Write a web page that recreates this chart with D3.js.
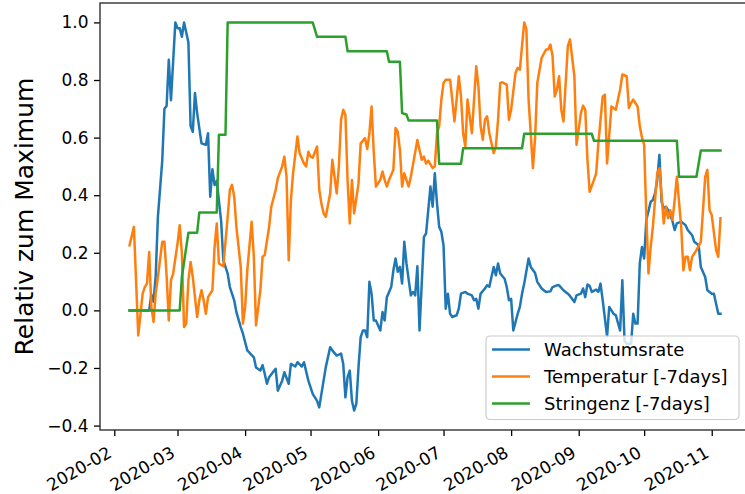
<html>

<head>
    <title>Wachstumsrate</title>
    <meta charset="utf-8">
    <style>
        body { margin: 0; background: #fff; }
        text { font-family: "DejaVu Sans", sans-serif; fill: #000; }
        .lines path { fill: none; stroke-width: 2.5px; stroke-linejoin: round; stroke-linecap: square; }
        .axis line { stroke: #000; stroke-width: 1.3px; }
        .spine { stroke: #222; stroke-width: 1.3px; fill: none; }
    </style>
</head>

<body>
    <svg width="745" height="494"></svg>
    <script src="https://cdn.jsdelivr.net/npm/d3@7"></script>

    <script>
        // values: [date, relative value]
        var rateData = [
            ["2020-02-08", 0.0], ["2020-02-17", 0.0], ["2020-02-18", 0.055], ["2020-02-19", 0.03], ["2020-02-20", 0.12],
            ["2020-02-21", 0.325], ["2020-02-23", 0.52], ["2020-02-24", 0.70], ["2020-02-25", 0.71], ["2020-02-26", 0.87],
            ["2020-02-27", 0.73], ["2020-02-29", 1.0], ["2020-03-01", 0.98], ["2020-03-02", 0.98], ["2020-03-03", 0.95],
            ["2020-03-04", 1.0], ["2020-03-05", 0.965], ["2020-03-06", 0.93], ["2020-03-07", 0.64], ["2020-03-08", 0.62],
            ["2020-03-09", 0.755], ["2020-03-10", 0.685], ["2020-03-12", 0.58], ["2020-03-14", 0.575], ["2020-03-15", 0.615],
            ["2020-03-16", 0.395], ["2020-03-17", 0.49], ["2020-03-18", 0.435], ["2020-03-19", 0.45], ["2020-03-21", 0.31],
            ["2020-03-22", 0.174], ["2020-03-24", 0.128], ["2020-03-25", 0.081], ["2020-03-27", 0.035], ["2020-03-28", -0.006],
            ["2020-03-30", -0.058], ["2020-03-31", -0.081], ["2020-04-02", -0.139], ["2020-04-05", -0.163], ["2020-04-06", -0.198],
            ["2020-04-08", -0.209], ["2020-04-09", -0.19], ["2020-04-10", -0.22], ["2020-04-11", -0.255], ["2020-04-12", -0.232],
            ["2020-04-15", -0.203], ["2020-04-16", -0.279], ["2020-04-18", -0.244], ["2020-04-19", -0.215], ["2020-04-21", -0.255],
            ["2020-04-22", -0.186], ["2020-04-24", -0.195], ["2020-04-25", -0.18], ["2020-04-27", -0.195], ["2020-04-28", -0.18],
            ["2020-04-30", -0.244], ["2020-05-02", -0.29], ["2020-05-04", -0.314], ["2020-05-05", -0.337], ["2020-05-06", -0.29],
            ["2020-05-08", -0.197], ["2020-05-10", -0.128], ["2020-05-11", -0.139], ["2020-05-13", -0.157], ["2020-05-15", -0.15],
            ["2020-05-16", -0.186], ["2020-05-17", -0.302], ["2020-05-18", -0.232], ["2020-05-19", -0.209], ["2020-05-20", -0.314],
            ["2020-05-21", -0.348], ["2020-05-22", -0.325], ["2020-05-23", -0.198], ["2020-05-24", -0.093], ["2020-05-25", -0.07],
            ["2020-05-26", -0.07], ["2020-05-27", -0.093], ["2020-05-28", 0.099], ["2020-05-29", 0.058], ["2020-05-30", -0.035],
            ["2020-05-31", -0.035], ["2020-06-02", -0.07], ["2020-06-03", -0.006], ["2020-06-04", -0.035], ["2020-06-05", 0.046],
            ["2020-06-07", 0.081], ["2020-06-08", 0.139], ["2020-06-09", 0.18], ["2020-06-10", 0.134], ["2020-06-11", 0.151],
            ["2020-06-12", 0.093], ["2020-06-13", 0.238], ["2020-06-14", 0.163], ["2020-06-16", 0.052], ["2020-06-17", 0.064],
            ["2020-06-18", 0.052], ["2020-06-19", 0.153], ["2020-06-20", -0.07], ["2020-06-22", 0.255], ["2020-06-23", 0.267],
            ["2020-06-25", 0.43], ["2020-06-26", 0.36], ["2020-06-27", 0.476], ["2020-06-28", 0.372], ["2020-06-29", 0.29],
            ["2020-06-30", 0.273], ["2020-07-01", 0.226], ["2020-07-02", 0.006], ["2020-07-03", 0.058], ["2020-07-04", -0.012],
            ["2020-07-05", -0.023], ["2020-07-07", -0.017], ["2020-07-08", 0.006], ["2020-07-09", 0.058], ["2020-07-11", 0.064],
            ["2020-07-12", 0.058], ["2020-07-14", 0.052], ["2020-07-15", 0.035], ["2020-07-16", 0.04], ["2020-07-17", 0.006],
            ["2020-07-18", 0.058], ["2020-07-20", 0.076], ["2020-07-21", 0.087], ["2020-07-22", 0.082], ["2020-07-24", 0.151],
            ["2020-07-25", 0.122], ["2020-07-26", 0.163], ["2020-07-27", 0.128], ["2020-07-29", 0.11], ["2020-07-30", 0.081],
            ["2020-07-31", 0.035], ["2020-08-01", 0.04], ["2020-08-02", -0.07], ["2020-08-04", -0.012], ["2020-08-05", 0.012],
            ["2020-08-06", 0.058], ["2020-08-07", 0.093], ["2020-08-09", 0.18], ["2020-08-10", 0.151], ["2020-08-12", 0.13],
            ["2020-08-13", 0.099], ["2020-08-15", 0.076], ["2020-08-17", 0.064], ["2020-08-19", 0.066], ["2020-08-20", 0.081],
            ["2020-08-22", 0.087], ["2020-08-23", 0.087], ["2020-08-25", 0.07], ["2020-08-27", 0.058], ["2020-08-28", 0.05],
            ["2020-08-30", 0.029], ["2020-08-31", 0.052], ["2020-09-02", 0.058], ["2020-09-03", 0.076], ["2020-09-04", 0.046],
            ["2020-09-05", 0.09], ["2020-09-06", 0.085], ["2020-09-07", 0.064], ["2020-09-09", 0.072], ["2020-09-10", 0.064],
            ["2020-09-11", 0.093], ["2020-09-12", 0.035], ["2020-09-14", -0.09], ["2020-09-15", 0.012], ["2020-09-17", -0.012],
            ["2020-09-18", -0.017], ["2020-09-20", -0.07], ["2020-09-21", 0.105], ["2020-09-22", -0.105], ["2020-09-23", -0.116],
            ["2020-09-25", -0.116], ["2020-09-26", -0.012], ["2020-09-27", -0.046], ["2020-09-28", -0.046], ["2020-09-29", 0.163],
            ["2020-09-30", 0.22], ["2020-10-01", 0.18], ["2020-10-02", 0.314], ["2020-10-04", 0.377], ["2020-10-05", 0.383],
            ["2020-10-06", 0.406], ["2020-10-07", 0.453], ["2020-10-08", 0.54], ["2020-10-09", 0.377], ["2020-10-10", 0.354],
            ["2020-10-11", 0.36], ["2020-10-12", 0.348], ["2020-10-14", 0.31], ["2020-10-15", 0.279], ["2020-10-16", 0.302],
            ["2020-10-18", 0.308], ["2020-10-20", 0.296], ["2020-10-21", 0.279], ["2020-10-23", 0.261], ["2020-10-24", 0.238],
            ["2020-10-26", 0.226], ["2020-10-27", 0.151], ["2020-10-29", 0.116], ["2020-10-30", 0.07], ["2020-11-01", 0.058],
            ["2020-11-02", 0.058], ["2020-11-04", -0.012], ["2020-11-05", -0.012]
        ];

        var tempData = [
            ["2020-02-08", 0.226], ["2020-02-10", 0.29], ["2020-02-12", -0.087], ["2020-02-14", 0.058], ["2020-02-15", 0.081],
            ["2020-02-16", 0.093], ["2020-02-17", 0.203], ["2020-02-18", 0.012], ["2020-02-19", -0.04], ["2020-02-20", 0.06],
            ["2020-02-21", 0.116], ["2020-02-23", 0.238], ["2020-02-24", 0.238], ["2020-02-25", 0.12], ["2020-02-26", -0.035],
            ["2020-02-27", 0.105], ["2020-02-28", 0.128], ["2020-03-01", 0.232], ["2020-03-02", 0.296], ["2020-03-03", 0.198],
            ["2020-03-04", -0.058], ["2020-03-05", -0.046], ["2020-03-06", 0.105], ["2020-03-07", 0.168], ["2020-03-08", 0.116],
            ["2020-03-10", -0.023], ["2020-03-11", 0.035], ["2020-03-12", 0.07], ["2020-03-13", 0.035], ["2020-03-14", -0.012],
            ["2020-03-15", 0.046], ["2020-03-17", 0.07], ["2020-03-18", 0.22], ["2020-03-19", 0.302], ["2020-03-20", 0.163],
            ["2020-03-22", 0.153], ["2020-03-24", 0.325], ["2020-03-25", 0.418], ["2020-03-26", 0.436], ["2020-03-27", 0.395],
            ["2020-03-28", 0.29], ["2020-03-30", 0.151], ["2020-03-31", -0.046], ["2020-04-01", 0.012], ["2020-04-02", 0.139],
            ["2020-04-04", 0.308], ["2020-04-05", 0.186], ["2020-04-06", -0.052], ["2020-04-08", 0.07], ["2020-04-09", 0.186],
            ["2020-04-10", 0.192], ["2020-04-12", 0.29], ["2020-04-13", 0.36], ["2020-04-15", 0.418], ["2020-04-16", 0.459],
            ["2020-04-18", 0.5], ["2020-04-19", 0.534], ["2020-04-20", 0.464], ["2020-04-21", 0.174], ["2020-04-22", 0.383],
            ["2020-04-23", 0.476], ["2020-04-25", 0.604], ["2020-04-26", 0.546], ["2020-04-28", 0.51], ["2020-04-29", 0.5],
            ["2020-04-30", 0.551], ["2020-05-01", 0.534], ["2020-05-02", 0.53], ["2020-05-04", 0.569], ["2020-05-05", 0.42],
            ["2020-05-06", 0.37], ["2020-05-07", 0.337], ["2020-05-08", 0.325], ["2020-05-10", 0.406], ["2020-05-11", 0.523],
            ["2020-05-13", 0.406], ["2020-05-14", 0.5], ["2020-05-15", 0.662], ["2020-05-16", 0.697], ["2020-05-17", 0.679],
            ["2020-05-18", 0.45], ["2020-05-19", 0.302], ["2020-05-20", 0.453], ["2020-05-21", 0.337], ["2020-05-23", 0.441],
            ["2020-05-24", 0.58], ["2020-05-26", 0.598], ["2020-05-27", 0.56], ["2020-05-28", 0.615], ["2020-05-29", 0.708],
            ["2020-05-30", 0.55], ["2020-05-31", 0.43], ["2020-06-02", 0.453], ["2020-06-03", 0.482], ["2020-06-04", 0.453],
            ["2020-06-05", 0.43], ["2020-06-06", 0.453], ["2020-06-08", 0.488], ["2020-06-09", 0.633], ["2020-06-10", 0.621],
            ["2020-06-11", 0.557], ["2020-06-12", 0.43], ["2020-06-13", 0.476], ["2020-06-15", 0.43], ["2020-06-16", 0.464],
            ["2020-06-19", 0.592], ["2020-06-20", 0.557], ["2020-06-21", 0.523], ["2020-06-22", 0.534], ["2020-06-23", 0.51],
            ["2020-06-24", 0.52], ["2020-06-26", 0.494], ["2020-06-27", 0.5], ["2020-06-28", 0.615], ["2020-06-29", 0.639],
            ["2020-06-30", 0.732], ["2020-07-01", 0.79], ["2020-07-02", 0.801], ["2020-07-04", 0.801], ["2020-07-05", 0.732],
            ["2020-07-06", 0.656], ["2020-07-07", 0.732], ["2020-07-08", 0.813], ["2020-07-09", 0.743], ["2020-07-10", 0.615],
            ["2020-07-11", 0.569], ["2020-07-12", 0.732], ["2020-07-13", 0.674], ["2020-07-14", 0.615], ["2020-07-16", 0.848],
            ["2020-07-17", 0.778], ["2020-07-18", 0.639], ["2020-07-19", 0.592], ["2020-07-20", 0.662], ["2020-07-21", 0.674],
            ["2020-07-22", 0.615], ["2020-07-24", 0.546], ["2020-07-25", 0.569], ["2020-07-26", 0.662], ["2020-07-27", 0.79],
            ["2020-07-28", 0.792], ["2020-07-30", 0.784], ["2020-07-31", 0.662], ["2020-08-01", 0.697], ["2020-08-03", 0.824],
            ["2020-08-04", 0.842], ["2020-08-05", 0.836], ["2020-08-07", 1.0], ["2020-08-08", 0.976], ["2020-08-09", 0.732],
            ["2020-08-11", 0.494], ["2020-08-12", 0.6], ["2020-08-13", 0.79], ["2020-08-15", 0.877], ["2020-08-17", 0.906],
            ["2020-08-18", 0.906], ["2020-08-19", 0.923], ["2020-08-20", 0.883], ["2020-08-21", 0.743], ["2020-08-22", 0.767],
            ["2020-08-23", 0.813], ["2020-08-24", 0.697], ["2020-08-25", 0.656], ["2020-08-27", 0.917], ["2020-08-28", 0.941],
            ["2020-08-30", 0.813], ["2020-08-31", 0.575], ["2020-09-02", 0.685], ["2020-09-03", 0.711], ["2020-09-04", 0.697],
            ["2020-09-05", 0.523], ["2020-09-06", 0.412], ["2020-09-08", 0.453], ["2020-09-09", 0.476], ["2020-09-10", 0.58],
            ["2020-09-12", 0.743], ["2020-09-13", 0.749], ["2020-09-14", 0.51], ["2020-09-16", 0.708], ["2020-09-18", 0.697],
            ["2020-09-19", 0.732], ["2020-09-20", 0.767], ["2020-09-21", 0.819], ["2020-09-23", 0.813], ["2020-09-24", 0.703],
            ["2020-09-25", 0.72], ["2020-09-26", 0.732], ["2020-09-28", 0.708], ["2020-09-29", 0.64], ["2020-09-30", 0.6],
            ["2020-10-01", 0.575], ["2020-10-02", 0.33], ["2020-10-03", 0.128], ["2020-10-04", 0.22], ["2020-10-05", 0.29],
            ["2020-10-07", 0.476], ["2020-10-08", 0.494], ["2020-10-09", 0.4], ["2020-10-10", 0.302], ["2020-10-11", 0.36],
            ["2020-10-12", 0.32], ["2020-10-13", 0.348], ["2020-10-14", 0.314], ["2020-10-15", 0.383], ["2020-10-16", 0.464],
            ["2020-10-18", 0.29], ["2020-10-19", 0.139], ["2020-10-20", 0.186], ["2020-10-21", 0.186], ["2020-10-22", 0.139],
            ["2020-10-23", 0.186], ["2020-10-25", 0.209], ["2020-10-27", 0.238], ["2020-10-28", 0.348], ["2020-10-29", 0.464],
            ["2020-10-30", 0.488], ["2020-10-31", 0.348], ["2020-11-01", 0.331], ["2020-11-03", 0.209], ["2020-11-04", 0.186],
            ["2020-11-05", 0.32]
        ];

        var stringData = [
            ["2020-02-08", 0.0], ["2020-03-02", 0.0], ["2020-03-03", 0.116], ["2020-03-06", 0.27], ["2020-03-10", 0.27],
            ["2020-03-11", 0.34], ["2020-03-19", 0.34], ["2020-03-20", 0.61], ["2020-03-23", 0.61], ["2020-03-24", 1.0],
            ["2020-05-02", 1.0], ["2020-05-04", 0.95], ["2020-05-17", 0.95], ["2020-05-18", 0.9], ["2020-06-05", 0.9],
            ["2020-06-06", 0.863], ["2020-06-11", 0.863], ["2020-06-12", 0.685], ["2020-06-14", 0.68], ["2020-06-15", 0.659],
            ["2020-06-28", 0.659], ["2020-06-29", 0.509], ["2020-07-09", 0.509], ["2020-07-10", 0.563], ["2020-08-06", 0.563],
            ["2020-08-07", 0.613], ["2020-09-07", 0.613], ["2020-09-08", 0.589], ["2020-10-16", 0.589], ["2020-10-17", 0.464],
            ["2020-10-25", 0.464], ["2020-10-27", 0.555], ["2020-11-05", 0.555]
        ];

        var seriesNames = ["Wachstumsrate", "Temperatur [-7days]", "Stringenz [-7days]"];
        var seriesColors = ["#1f77b4", "#ff7f0e", "#2ca02c"];
        var yTicks = [-0.4, -0.2, 0.0, 0.2, 0.4, 0.6, 0.8, 1.0];
        var yLabel = "Relativ zum Maximum";

        var svg = d3.select("svg");
        var box = { left: 100, right: 750, top: 3, bottom: 430 };

        var parse = d3.timeParse("%Y-%m-%d");
        var series = [rateData, tempData, stringData].map(function (s) {
            return s.map(function (d) { return { date: parse(d[0]), value: d[1] }; });
        });
        var all = d3.merge(series);

        // matplotlib style 5% margins around the data
        var dExt = d3.extent(all, function (d) { return d.date; });
        var vExt = d3.extent(all, function (d) { return d.value; });
        var dPad = (dExt[1] - dExt[0]) * 0.05, vPad = (vExt[1] - vExt[0]) * 0.05;

        var x = d3.scaleTime()
            .domain([new Date(+dExt[0] - dPad), new Date(+dExt[1] + dPad)])
            .range([box.left, box.right]);
        var y = d3.scaleLinear()
            .domain([vExt[0] - vPad, vExt[1] + vPad])
            .range([box.bottom, box.top]);

        var line = d3.line()
            .x(function (d) { return x(d.date); })
            .y(function (d) { return y(d.value); });

        svg.append("g")
            .attr("class", "lines")
            .selectAll("path")
            .data(series)
            .enter().append("path")
            .attr("stroke", function (d, i) { return seriesColors[i]; })
            .attr("d", line);

        // x axis, labels turned like fig.autofmt_xdate()
        var xAxis = svg.append("g")
            .attr("class", "axis")
            .attr("transform", "translate(0," + box.bottom + ")")
            .call(d3.axisBottom(x)
                .ticks(d3.timeMonth.every(1))
                .tickFormat(d3.timeFormat("%Y-%m"))
                .tickSize(6)
                .tickSizeOuter(0));
        xAxis.select(".domain").remove();
        xAxis.selectAll("text")
            .attr("x", 0).attr("y", 0).attr("dy", 0)
            .attr("text-anchor", "end")
            .attr("transform", "translate(-2,26) rotate(-30)")
            .style("font-size", "17px");

        // y axis
        var yAxis = svg.append("g")
            .attr("class", "axis")
            .attr("transform", "translate(" + box.left + ",0)")
            .call(d3.axisLeft(y)
                .tickValues(yTicks)
                .tickFormat(d3.format(".1f"))
                .tickSize(6)
                .tickPadding(5.5)
                .tickSizeOuter(0));
        yAxis.select(".domain").remove();
        yAxis.selectAll("text").style("font-size", "17px");

        // spines
        svg.append("rect")
            .attr("class", "spine")
            .attr("x", box.left)
            .attr("y", box.top)
            .attr("width", box.right - box.left)
            .attr("height", box.bottom - box.top);

        svg.append("text")
            .attr("transform", "translate(33," + (box.top + box.bottom) / 2 + ") rotate(-90)")
            .attr("text-anchor", "middle")
            .style("font-size", "25px")
            .text(yLabel);

        // legend
        var legend = svg.append("g").attr("transform", "translate(486,336)");
        legend.append("rect")
            .attr("width", 253)
            .attr("height", 83.5)
            .attr("rx", 4)
            .attr("fill", "#fff")
            .attr("fill-opacity", 0.8)
            .attr("stroke", "#ccc")
            .attr("stroke-width", 1.2);

        var item = legend.selectAll("g.item")
            .data(seriesNames)
            .enter().append("g")
            .attr("class", "item")
            .attr("transform", function (d, i) { return "translate(0," + (13.5 + i * 27) + ")"; });
        item.append("line")
            .attr("x1", 6).attr("x2", 44)
            .attr("stroke", function (d, i) { return seriesColors[i]; })
            .attr("stroke-width", 2.5);
        item.append("text")
            .attr("x", 58)
            .attr("y", 6.5)
            .style("font-size", "18px")
            .text(function (d) { return d; });
    </script>

</body>

</html>
